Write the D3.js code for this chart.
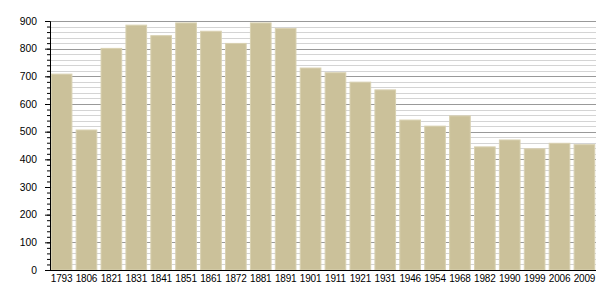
<!DOCTYPE html>
<html>
<head>
<meta charset="utf-8">
<script src="https://cdn.jsdelivr.net/npm/d3@7"></script>
<style>
  body { margin: 0; background: #fff; }
  svg text { font-family: "Liberation Sans", Arial, sans-serif; font-size: 10.3px; fill: #000; }
  svg .x-axis text { font-size: 10px; letter-spacing: -0.2px; }
</style>
</head>
<body>
<svg class="bar-chart"></svg>
<script>
'use strict';

var years = ['1793', '1806', '1821', '1831', '1841', '1851', '1861', '1872', '1881', '1891', '1901',
             '1911', '1921', '1931', '1946', '1954', '1968', '1982', '1990', '1999', '2006', '2009'];
var population = [708, 506, 801, 885, 847, 893, 863, 819, 893, 873, 730,
                  713, 679, 651, 542, 520, 557, 445, 470, 438, 458, 453];
var yTicks = [0, 100, 200, 300, 400, 500, 600, 700, 800, 900];

var svgWidth = 605,
    svgHeight = 300,
    margin = { top: 21, right: 9, bottom: 30, left: 50 },
    width = svgWidth - margin.left - margin.right,
    height = svgHeight - margin.top - margin.bottom;

var svg = d3.select('svg.bar-chart')
    .attr('width', svgWidth)
    .attr('height', svgHeight);

var g = svg.append('g').attr('transform', 'translate(' + margin.left + ',' + margin.top + ')');

var xScale = d3.scaleBand().domain(years).range([0, width]).paddingInner(0.17).paddingOuter(0.05);
var yScale = d3.scaleLinear().domain([0, 900]).range([height, 0]);

// minor grid every 20, major every 100
var minor = d3.range(0, 901, 20).filter(function(v) { return v % 100 !== 0; });
g.append('g').selectAll('line').data(minor).enter().append('line')
    .attr('x1', 0).attr('x2', width)
    .attr('y1', function(d) { return Math.round(yScale(d)) + 0.5; })
    .attr('y2', function(d) { return Math.round(yScale(d)) + 0.5; })
    .attr('stroke', '#d4d4d4').attr('stroke-width', 1);
g.append('g').selectAll('line').data(yTicks.slice(1)).enter().append('line')
    .attr('x1', 0).attr('x2', width)
    .attr('y1', function(d) { return Math.round(yScale(d)) + 0.5; })
    .attr('y2', function(d) { return Math.round(yScale(d)) + 0.5; })
    .attr('stroke', '#999').attr('stroke-width', 1);

var data = years.map(function(y, i) { return { year: y, value: population[i] }; });

g.append('g').selectAll('rect').data(data).enter().append('rect')
    .attr('x', function(d) { return xScale(d.year); })
    .attr('y', function(d) { return yScale(d.value); })
    .attr('width', xScale.bandwidth())
    .attr('height', function(d) { return height - yScale(d.value); })
    .attr('fill', '#cbc19a')
    .attr('stroke', '#d9d1b1')
    .attr('stroke-width', 1);

// y axis with minor ticks
var yMinor = d3.axisLeft(yScale).tickValues(d3.range(0, 901, 20)).tickSize(3).tickFormat('');
g.append('g').call(yMinor).call(function(s) { s.select('.domain').remove(); });
var yAxis = d3.axisLeft(yScale).tickValues(yTicks).tickSize(5).tickPadding(8);
g.append('g').call(yAxis);

var xAxis = d3.axisBottom(xScale).tickSize(0).tickPadding(5);
g.append('g').attr('class', 'x-axis').attr('transform', 'translate(0,' + height + ')').call(xAxis)
    .select('.domain').attr('d', 'M0,0.5H' + width);
</script>
</body>
</html>
